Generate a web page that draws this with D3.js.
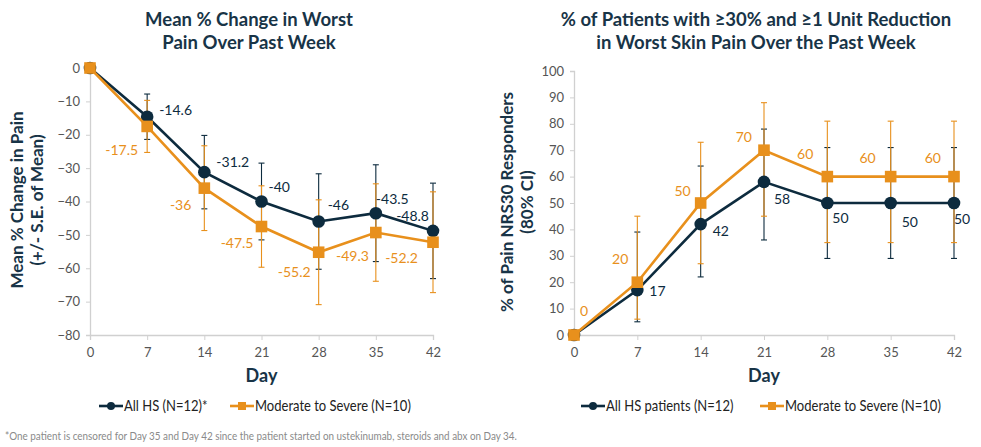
<!DOCTYPE html>
<html>
<head>
<meta charset="utf-8">
<script src="https://cdn.jsdelivr.net/npm/d3@7"></script>
<style>
  body { margin: 0; background: #fff; }
  svg { font-family: Lato, "Open Sans", sans-serif; }
</style>
</head>
<body>
<div id="chart"></div>
<script>
const width = 981;
const height = 447;

// shared x values
const days = [0, 7, 14, 21, 28, 35, 42];

// left chart: mean % change (+/- SE)
const meanAll = [0, -14.6, -31.2, -40, -46, -43.5, -48.8];
const seAll = [0, 6.8, 11, 11.5, 14.3, 14.5, 14.3];
const meanMod = [0, -17.5, -36, -47.5, -55.2, -49.3, -52.2];
const seMod = [0, 7.8, 12.7, 12.2, 15.7, 14.6, 15.1];
const leftTicks = [0, -10, -20, -30, -40, -50, -60, -70, -80];

// right chart: % responders with 80% CI
const respAll = [0, 17, 42, 58, 50, 50, 50];
const ciAllLo = [0, 5, 22, 36, 29, 29, 29];
const ciAllHi = [0, 39, 64, 78, 71, 71, 71];
const respMod = [0, 20, 50, 70, 60, 60, 60];
const ciModLo = [0, 6, 27, 45, 35, 35, 35];
const ciModHi = [0, 45, 73, 88, 81, 81, 81];
const rightTicks = [0, 10, 20, 30, 40, 50, 60, 70, 80, 90, 100];

const navy = '#0d2b3e';
const orange = '#e8901c';
const titleColor = '#183447';

const svg = d3.select('#chart')
  .append('svg')
  .attr('width', width)
  .attr('height', height);

// label nudges (layout only)
const leftNudge = {
  all: [null, [12, -7, 'start'], [12, -10, 'start'], [7, -14, 'start'], [9, -16, 'start'], [0, -14, 'start'], [-4, -15, 'end']],
  mod: [null, [-9, 24, 'end'], [-13, 17, 'end'], [-8, 17, 'end'], [-8, 20, 'end'], [-7, 24, 'end'], [-15, 16, 'end']]
};
const rightNudge = {
  all: [null, [12, 1, 'start'], [12, 7, 'start'], [10, 17, 'start'], [5, 15, 'start'], [11, 19, 'start'], [0, 16, 'start']],
  mod: [[10, -24, 'middle'], [-9, -23, 'end'], [-10, -12, 'end'], [-12, -13, 'end'], [-14, -23, 'end'], [-15, -19, 'end'], [-13, -19, 'end']]
};

function drawChart(cfg) {
  const x = d3.scaleLinear().domain([0, 42]).range(cfg.xr);
  const y = d3.scaleLinear().domain(cfg.yd).range(cfg.yr);
  const g = svg.append('g');

  // axes
  const xa = g.append('g')
    .attr('transform', `translate(0,${cfg.yr[0]})`)
    .call(d3.axisBottom(x).tickValues(days).tickSize(5).tickPadding(8));
  const ya = g.append('g')
    .attr('transform', `translate(${cfg.xr[0]},0)`)
    .call(d3.axisLeft(y).tickValues(cfg.ticks).tickSize(4).tickPadding(6));
  [xa, ya].forEach(a => {
    a.select('.domain').attr('stroke', '#d0d0d0').attr('stroke-width', 1.3);
    a.selectAll('.tick line').attr('stroke', '#d0d0d0');
    a.selectAll('.tick text')
      .attr('fill', '#555')
      .style('font-size', '13px')
      .style('font-family', 'Lato, sans-serif');
  });

  // titles
  g.append('text')
    .attr('text-anchor', 'middle')
    .attr('fill', titleColor)
    .style('font-size', '18.5px')
    .style('font-weight', 'bold')
    .selectAll('tspan')
    .data(cfg.title)
    .enter()
    .append('tspan')
    .attr('x', cfg.titleX)
    .attr('y', (d, i) => 26 + i * 23)
    .text(d => d);

  g.append('text')
    .attr('x', (cfg.xr[0] + cfg.xr[1]) / 2)
    .attr('y', 382)
    .attr('text-anchor', 'middle')
    .attr('fill', titleColor)
    .style('font-size', '18px')
    .style('font-weight', 'bold')
    .text('Day');

  g.append('text')
    .attr('transform', `translate(${cfg.yTitleX},${cfg.yTitleY}) rotate(-90)`)
    .attr('text-anchor', 'middle')
    .attr('fill', titleColor)
    .style('font-size', '17px')
    .style('font-weight', 'bold')
    .selectAll('tspan')
    .data(cfg.yTitle)
    .enter()
    .append('tspan')
    .attr('x', 0)
    .attr('y', (d, i) => i * 20)
    .text(d => d);

  cfg.series.forEach(s => {
    const pts = days.map((d, i) => ({ d, v: s.vals[i], lo: s.lo[i], hi: s.hi[i], i }));

    // error bars
    const eb = g.append('g')
      .attr('stroke', s.color)
      .attr('stroke-width', s.ebWidth);
    pts.filter(p => p.lo !== p.hi).forEach(p => {
      eb.append('line')
        .attr('x1', x(p.d)).attr('x2', x(p.d))
        .attr('y1', y(p.lo)).attr('y2', y(p.hi));
      [p.lo, p.hi].forEach(v => {
        eb.append('line')
          .attr('x1', x(p.d) - 3).attr('x2', x(p.d) + 3)
          .attr('y1', y(v)).attr('y2', y(v));
      });
    });
  });

  cfg.series.forEach(s => {
    const pts = days.map((d, i) => ({ d, v: s.vals[i], i }));
    const line = d3.line().x(p => x(p.d)).y(p => y(p.v));
    g.append('path')
      .datum(pts)
      .attr('d', line)
      .attr('fill', 'none')
      .attr('stroke', s.color)
      .attr('stroke-width', 2.6);

    if (s.shape === 'circle') {
      g.selectAll(null)
        .data(pts)
        .enter()
        .append('circle')
        .attr('cx', p => x(p.d))
        .attr('cy', p => y(p.v))
        .attr('r', 6.3)
        .attr('fill', s.color);
    } else {
      g.selectAll(null)
        .data(pts)
        .enter()
        .append('rect')
        .attr('x', p => x(p.d) - 5.8)
        .attr('y', p => y(p.v) - 5.8)
        .attr('width', 11.6)
        .attr('height', 11.6)
        .attr('fill', s.color);
    }

    g.selectAll(null)
      .data(pts.filter(p => s.nudge[p.i]))
      .enter()
      .append('text')
      .attr('x', p => x(p.d) + s.nudge[p.i][0])
      .attr('y', p => y(p.v) + s.nudge[p.i][1])
      .attr('dy', '0.35em')
      .attr('text-anchor', p => s.nudge[p.i][2])
      .attr('fill', s.color)
      .style('font-size', '14px')
      .text(p => p.v);
  });

  // legend (condensed text)
  const lg = g.append('g').attr('transform', 'translate(0,406)');
  cfg.legend.forEach(l => {
    lg.append('line')
      .attr('x1', l.x).attr('x2', l.x + 24)
      .attr('y1', 0).attr('y2', 0)
      .attr('stroke', l.color)
      .attr('stroke-width', 2.6);
    if (l.shape === 'circle') {
      lg.append('circle').attr('cx', l.x + 12).attr('cy', 0).attr('r', 4).attr('fill', l.color);
    } else {
      lg.append('rect').attr('x', l.x + 8).attr('y', -4).attr('width', 8).attr('height', 8).attr('fill', l.color);
    }
    lg.append('text')
      .attr('transform', `translate(${l.x + 25},0) scale(0.84,1)`)
      .attr('dy', '0.35em')
      .attr('fill', '#222')
      .style('font-size', '15.5px')
      .text(l.text);
  });
}

drawChart({
  xr: [90, 433],
  yd: [-80, 0],
  yr: [335, 68],
  ticks: leftTicks,
  title: ['Mean % Change in Worst', 'Pain Over Past Week'],
  titleX: 249,
  yTitle: ['Mean % Change in Pain', '(+/- S.E. of Mean)'],
  yTitleX: 23,
  yTitleY: 200,
  series: [
    { vals: meanAll, lo: meanAll.map((v, i) => v - seAll[i]), hi: meanAll.map((v, i) => v + seAll[i]),
      color: navy, shape: 'circle', ebWidth: 1.1, nudge: leftNudge.all },
    { vals: meanMod, lo: meanMod.map((v, i) => v - seMod[i]), hi: meanMod.map((v, i) => v + seMod[i]),
      color: orange, shape: 'square', ebWidth: 1.1, nudge: leftNudge.mod }
  ],
  legend: [
    { x: 99, color: navy, shape: 'circle', text: 'All HS (N=12)*' },
    { x: 230, color: orange, shape: 'square', text: 'Moderate to Severe (N=10)' }
  ]
});

drawChart({
  xr: [574, 954],
  yd: [0, 100],
  yr: [335, 71],
  ticks: rightTicks,
  title: ['% of Patients with \u226530% and \u22651 Unit Reduction', 'in Worst Skin Pain Over the Past Week'],
  titleX: 756,
  yTitle: ['% of Pain NRS30 Responders', '(80% CI)'],
  yTitleX: 513,
  yTitleY: 202,
  series: [
    { vals: respAll, lo: ciAllLo, hi: ciAllHi, color: navy, shape: 'circle', ebWidth: 1.1, nudge: rightNudge.all },
    { vals: respMod, lo: ciModLo, hi: ciModHi, color: orange, shape: 'square', ebWidth: 1.1, nudge: rightNudge.mod }
  ],
  legend: [
    { x: 581, color: navy, shape: 'circle', text: 'All HS patients (N=12)' },
    { x: 760, color: orange, shape: 'square', text: 'Moderate to Severe (N=10)' }
  ]
});

svg.append('text')
  .attr('transform', 'translate(5,440) scale(0.9,1)')
  .attr('fill', '#8a8a8a')
  .style('font-size', '11px')
  .text('*One patient is censored for Day 35 and Day 42 since the patient started on ustekinumab, steroids and abx on Day 34.');
</script>
</body>
</html>
